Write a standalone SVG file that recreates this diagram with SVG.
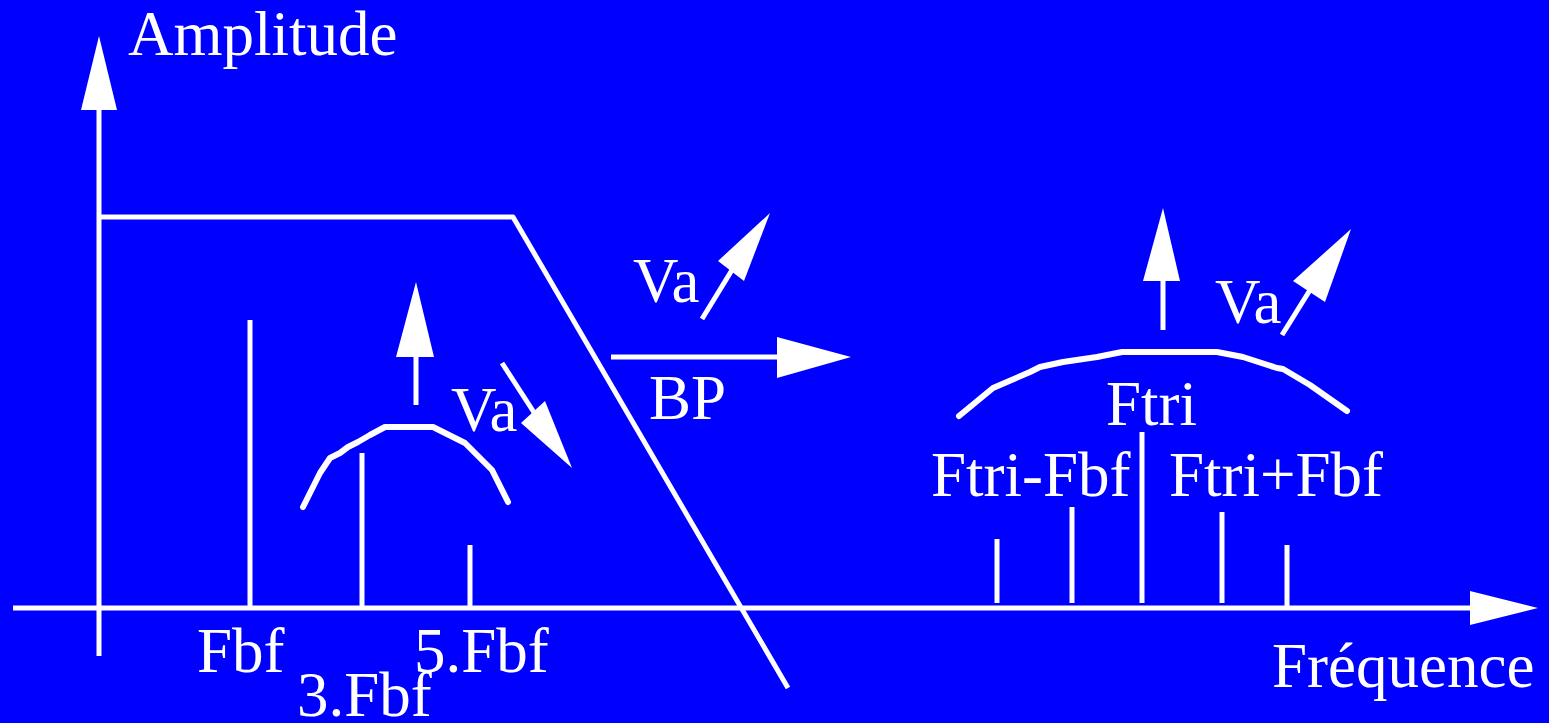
<svg xmlns="http://www.w3.org/2000/svg" width="1549" height="723" viewBox="0 0 1549 723">
<style>
.ln{stroke:#fff;stroke-width:5;fill:none;stroke-linejoin:round}
.cv{stroke:#fff;stroke-width:6;fill:none;stroke-linejoin:round;stroke-linecap:round}
.hd{fill:#fff;stroke:none}
.t{font-family:"Liberation Serif","Times New Roman",serif;font-size:63px;fill:#fff}
</style>
<rect x="0" y="0" width="1549" height="723" fill="#0000ff"/>
<g id="axes">
<line class="ln" x1="99" y1="656" x2="99" y2="108"/>
<polygon class="hd" points="99,36 81,110 117,110"/>
<line class="ln" x1="13" y1="608" x2="1472" y2="608"/>
<polygon class="hd" points="1538,608 1470,591 1470,625"/>
<text class="t" x="128" y="55">Amplitude</text>
<text class="t" x="1272" y="687">Fréquence</text>
</g>
<g id="filter">
<polyline class="ln" points="99,217 513,217 788,688"/>
</g>
<g id="baseband">
<line class="ln" x1="250" y1="320" x2="250" y2="608"/>
<line class="ln" x1="362" y1="453" x2="362" y2="608"/>
<line class="ln" x1="470" y1="545" x2="470" y2="608"/>
<polyline class="cv" points="303,507 320,473 330,458 340,453 348,447 358,442 370,435 385,427 433,427 465,443 492,470 508,502"/>
<text class="t" x="197" y="672">Fbf</text>
<text class="t" x="297" y="716">3.Fbf</text>
<text class="t" x="414" y="672">5.Fbf</text>
</g>
<g id="baseband-arrows">
<line class="ln" x1="416" y1="405" x2="416" y2="355"/>
<polygon class="hd" points="416,282 396,357 434,357"/>
<line class="ln" x1="502" y1="363" x2="535" y2="414"/>
<polygon class="hd" points="572,468 521,423 545,401"/>
<text class="t" x="451" y="431">Va</text>
</g>
<g id="bp">
<line class="ln" x1="702" y1="319" x2="732" y2="270"/>
<polygon class="hd" points="770,213 718,261 744,281"/>
<text class="t" x="633" y="302">Va</text>
<line class="ln" x1="611" y1="357" x2="779" y2="357"/>
<polygon class="hd" points="851,357 777,337 777,378"/>
<text class="t" x="649" y="419">BP</text>
</g>
<g id="modulated">
<line class="ln" x1="997" y1="539" x2="997" y2="603"/>
<line class="ln" x1="1072" y1="507" x2="1072" y2="603"/>
<line class="ln" x1="1142" y1="432" x2="1142" y2="603"/>
<line class="ln" x1="1222" y1="512" x2="1222" y2="603"/>
<line class="ln" x1="1287" y1="545" x2="1287" y2="608"/>
<polyline class="cv" points="959,416 993,388 1030,372 1040,367 1063,362 1097,357 1122,352 1217,352 1243,357 1277,368 1283,369 1310,385 1347,411"/>
<text class="t" x="1106" y="425">Ftri</text>
<text class="t" x="931" y="496">Ftri-Fbf</text>
<text class="t" x="1169" y="496">Ftri+Fbf</text>
</g>
<g id="modulated-arrows">
<line class="ln" x1="1163" y1="330" x2="1163" y2="279"/>
<polygon class="hd" points="1163,208 1143,281 1180,281"/>
<line class="ln" x1="1282" y1="335" x2="1310" y2="290"/>
<polygon class="hd" points="1351,229 1293,281 1325,302"/>
<text class="t" x="1215" y="323">Va</text>
</g>
</svg>
